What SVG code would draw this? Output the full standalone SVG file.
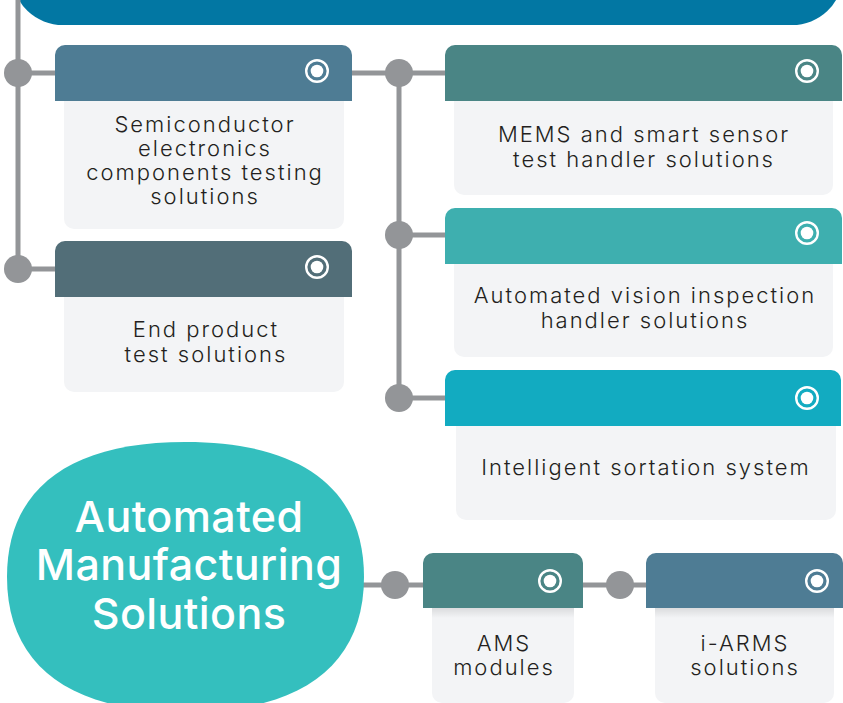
<svg xmlns="http://www.w3.org/2000/svg" width="843" height="703" viewBox="0 0 843 703">
<style>
.line{stroke:#939598;stroke-width:5;fill:none}
.dot{fill:#939598}
.body{fill:#F3F4F6}
.t{font-family:Inter,"Liberation Sans",sans-serif;font-weight:300;font-size:22px;fill:#231F20;text-anchor:middle;letter-spacing:2px}
.title{font-family:Inter,"Liberation Sans",sans-serif;font-weight:500;font-size:43px;fill:#FFFFFF;text-anchor:middle;letter-spacing:0.4px}
.ring{fill:none;stroke:#FFFFFF;stroke-width:2.4}
.pip{fill:#FFFFFF}
</style>
<defs>
<linearGradient id="sh" x1="0" y1="0" x2="0" y2="1">
<stop offset="0" stop-color="#000" stop-opacity="0.10"/>
<stop offset="1" stop-color="#000" stop-opacity="0"/>
</linearGradient>
<g id="icon"><circle class="ring" r="10.8"/><circle class="pip" r="6.3"/></g>
</defs>
<rect width="843" height="703" fill="#FFFFFF"/>
<g id="banner">
<rect x="13" y="-70" width="829" height="95" rx="50" ry="48" fill="#0277A3"/>
</g>
<g id="connectors">
<line class="line" x1="18" y1="-2" x2="18" y2="269"/>
<line class="line" x1="18" y1="73" x2="56" y2="73"/>
<line class="line" x1="18" y1="269" x2="56" y2="269"/>
<circle class="dot" cx="18" cy="73" r="14"/>
<circle class="dot" cx="18" cy="269" r="14"/>
<line class="line" x1="351" y1="73" x2="446" y2="73"/>
<line class="line" x1="399" y1="73" x2="399" y2="398"/>
<line class="line" x1="399" y1="235" x2="446" y2="235"/>
<line class="line" x1="399" y1="398" x2="446" y2="398"/>
<circle class="dot" cx="399" cy="73" r="14"/>
<circle class="dot" cx="399" cy="235" r="14"/>
<circle class="dot" cx="399" cy="398" r="14"/>
<line class="line" x1="360" y1="585" x2="424" y2="585"/>
<line class="line" x1="582" y1="585" x2="647" y2="585"/>
<circle class="dot" cx="395" cy="585" r="14"/>
<circle class="dot" cx="620" cy="585" r="14"/>
</g>
<g id="node-semiconductor">
<rect class="body" x="64" y="90" width="280" height="139" rx="10"/>
<path d="M55 55 A10 10 0 0 1 65 45 H342 A10 10 0 0 1 352 55 V101 H55 Z" fill="#4E7C94"/>
<use href="#icon" x="317" y="71"/>
<text class="t" x="205" y="131.5">Semiconductor</text>
<text class="t" x="205" y="156">electronics</text>
<text class="t" x="205" y="180">components testing</text>
<text class="t" x="205" y="204">solutions</text>
</g>
<g id="node-endproduct">
<rect class="body" x="64" y="285" width="280" height="107" rx="10"/>
<path d="M55 251 A10 10 0 0 1 65 241 H342 A10 10 0 0 1 352 251 V297 H55 Z" fill="#526E78"/>
<use href="#icon" x="317" y="267"/>
<text class="t" x="206" y="337">End product</text>
<text class="t" x="206" y="361.5">test solutions</text>
</g>
<g id="node-mems">
<rect class="body" x="454" y="90" width="379" height="105" rx="10"/>
<path d="M445 55 A10 10 0 0 1 455 45 H832 A10 10 0 0 1 842 55 V101 H445 Z" fill="#4A8585"/>
<use href="#icon" x="807" y="71"/>
<text class="t" x="644" y="141.5">MEMS and smart sensor</text>
<text class="t" x="644" y="166.5">test handler solutions</text>
</g>
<g id="node-vision">
<rect class="body" x="454" y="252" width="379" height="105" rx="10"/>
<path d="M445 218 A10 10 0 0 1 455 208 H832 A10 10 0 0 1 842 218 V264 H445 Z" fill="#3EAFAF"/>
<use href="#icon" x="807" y="233"/>
<text class="t" x="645" y="303">Automated vision inspection</text>
<text class="t" x="645" y="328">handler solutions</text>
</g>
<g id="node-sortation">
<rect class="body" x="456" y="414" width="380" height="106" rx="10"/>
<path d="M445 380 A10 10 0 0 1 455 370 H831 A10 10 0 0 1 841 380 V426 H445 Z" fill="#12ABC1"/>
<use href="#icon" x="807" y="398"/>
<text class="t" x="646" y="474.5">Intelligent sortation system</text>
</g>
<g id="node-ams-solutions">
<path d="M185.5 442 C302 442 364 489 364 577 C364 665 302 712 185.5 712 C69 712 7 665 7 577 C7 489 69 442 185.5 442 Z" fill="#34BFBE"/>
<text class="title" x="189" y="531.5">Automated</text>
<text class="title" x="189" y="580">Manufacturing</text>
<text class="title" x="189" y="629">Solutions</text>
</g>
<g id="node-ams-modules">
<rect class="body" x="432" y="596" width="142" height="107" rx="10"/>
<rect x="432" y="608" width="142" height="10" fill="url(#sh)"/>
<path d="M423 563 A10 10 0 0 1 433 553 H573 A10 10 0 0 1 583 563 V608 H423 Z" fill="#4A8585"/>
<use href="#icon" x="550" y="581"/>
<text class="t" x="504" y="651">AMS</text>
<text class="t" x="504" y="675">modules</text>
</g>
<g id="node-iarms">
<rect class="body" x="655" y="596" width="179" height="107" rx="10"/>
<rect x="655" y="608" width="179" height="10" fill="url(#sh)"/>
<path d="M646 563 A10 10 0 0 1 656 553 H833 A10 10 0 0 1 843 563 V608 H646 Z" fill="#4E7C94"/>
<use href="#icon" x="817" y="581"/>
<text class="t" x="745" y="651">i-ARMS</text>
<text class="t" x="745" y="675">solutions</text>
</g>
</svg>
